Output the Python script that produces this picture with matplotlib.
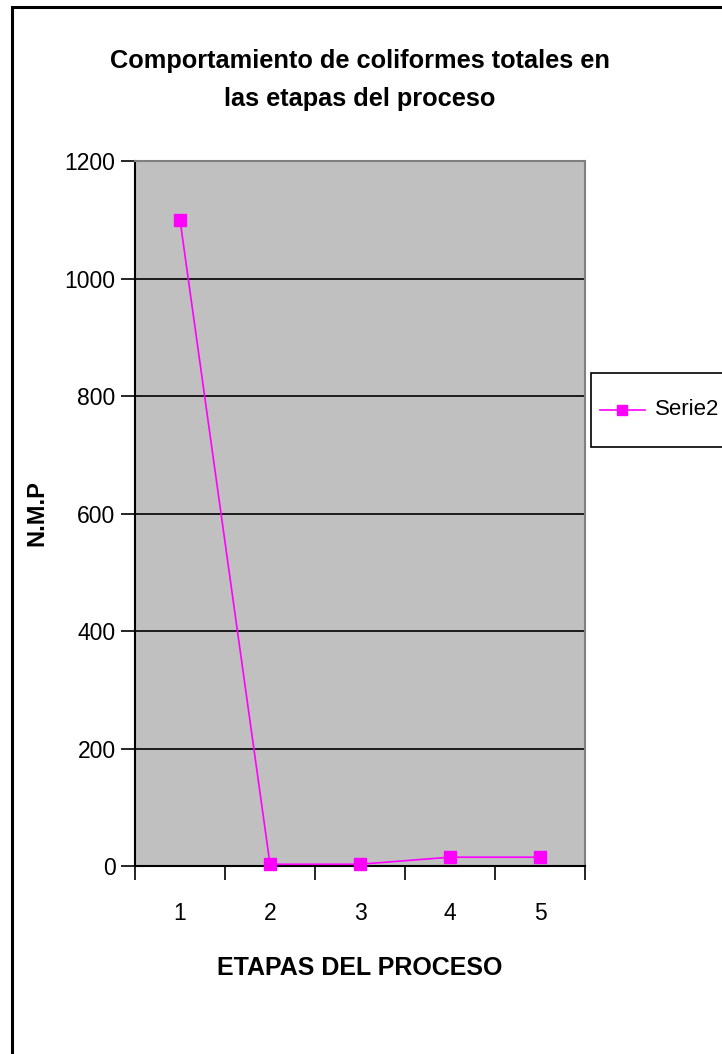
import matplotlib
matplotlib.use("Agg")
import matplotlib.pyplot as plt
from matplotlib.lines import Line2D
from matplotlib.patches import Rectangle

plt.rcParams['font.family'] = ['Liberation Sans', 'DejaVu Sans']

etapas = [1, 2, 3, 4, 5]
nmp = [1100, 3, 3, 15, 15]
yticks = [0, 200, 400, 600, 800, 1000, 1200]
title = "Comportamiento de coliformes totales en\nlas etapas del proceso"
xlabel = "ETAPAS DEL PROCESO"
ylabel = "N.M.P"
serie = "Serie2"

W, H = 722, 1054
fig = plt.figure(figsize=(W / 100, H / 100), dpi=100)
fig.patch.set_facecolor('white')

def fx(px):
    return px / W

def fy(py):
    return 1 - py / H

# outer chart frame
fig.add_artist(Rectangle((fx(12), -0.01), 1.2, fy(7) + 0.01, transform=fig.transFigure,
                         fill=False, edgecolor='black', linewidth=2.2))

ax = fig.add_axes([fx(135), fy(866), 450 / W, 705 / H])
ax.set_facecolor('#C0C0C0')
line, = ax.plot(etapas, nmp, color='#FF00FF', linewidth=1.2, marker='s', markersize=8,
                markerfacecolor='#FF00FF', markeredgecolor='#FF00FF', clip_on=False, zorder=3)
ax.set_xlim(0.5, 5.5)
ax.set_ylim(0, 1200)
ax.set_yticks(yticks)
ax.set_yticklabels([str(v) for v in yticks], fontsize=16.5)
ax.yaxis.grid(True, color='black', linewidth=1.2)
ax.set_axisbelow(True)
ax.tick_params(axis='y', direction='out', length=10, width=1.2, pad=4)

ax.set_xticks(etapas)
ax.set_xticklabels([str(v) for v in etapas], fontsize=16.5)
ax.tick_params(axis='x', which='major', length=0, pad=26)
ax.set_xticks([0.5 + i for i in range(6)], minor=True)
ax.tick_params(axis='x', which='minor', direction='out', length=10, width=1.2)

for s in ['left', 'bottom']:
    ax.spines[s].set_color('black')
    ax.spines[s].set_linewidth(1.5)
for s in ['top', 'right']:
    ax.spines[s].set_color('#808080')
    ax.spines[s].set_linewidth(1.5)

ax.set_xlabel(xlabel, fontsize=18, fontweight='bold', labelpad=22)
ax.set_ylabel(ylabel, fontsize=17, fontweight='bold', labelpad=12)

fig.text(fx(360), fy(80), title, ha='center', va='center', fontsize=18.3,
         fontweight='bold', linespacing=1.75)

# legend (drawn as box + sample + label)
fig.add_artist(Rectangle((fx(591), fy(447)), 0.3, 74 / H, transform=fig.transFigure,
                         facecolor='white', edgecolor='black', linewidth=1.2))
fig.add_artist(Line2D([fx(600), fx(645)], [fy(410), fy(410)], transform=fig.transFigure,
                      color=line.get_color(), linewidth=1.2))
fig.add_artist(Line2D([fx(622)], [fy(410)], transform=fig.transFigure,
                      color=line.get_color(), marker='s', markersize=7, linestyle='none'))
fig.text(fx(655), fy(410), serie, ha='left', va='center', fontsize=16)

fig.savefig('out.png', dpi=100)
